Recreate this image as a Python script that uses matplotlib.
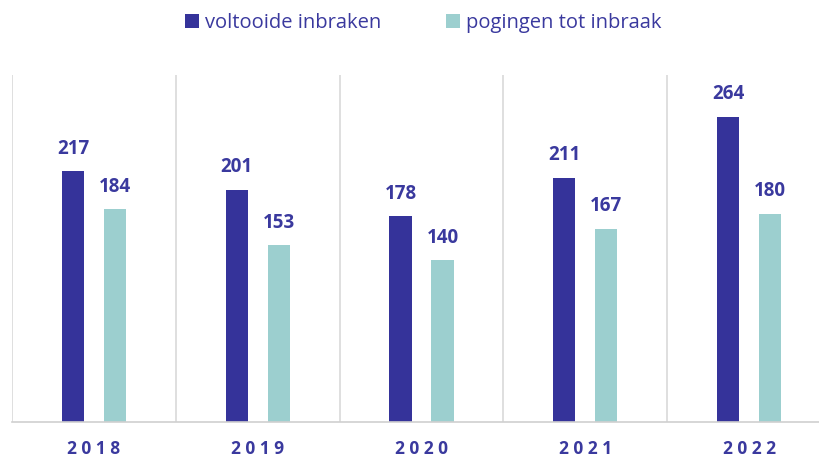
import matplotlib.pyplot as plt
import numpy as np

years = ["2018", "2019", "2020", "2021", "2022"]
voltooid = [217, 201, 178, 211, 264]
pogingen = [184, 153, 140, 167, 180]

dark = "#35339a"
teal = "#9ccfcf"
txt = "#3a399e"

plt.rcParams["font.family"] = ["Open Sans", "DejaVu Sans"]

fig = plt.figure(figsize=(8.19, 4.57), dpi=100)
ax = fig.add_axes([12 / 819, 35 / 457, 819 / 819, 347 / 457])

x = np.arange(len(years))
off = 0.128
w = 0.135
b1 = ax.bar(x - off, voltooid, w, color=dark, label="voltooide inbraken")
b2 = ax.bar(x + off, pogingen, w, color=teal, label="pogingen tot inbraak")

for bars in (b1, b2):
    for r in bars:
        ax.annotate(str(int(r.get_height())), (r.get_x() + r.get_width() / 2, r.get_height()),
                    xytext=(0, 9), textcoords="offset points", ha="center", va="bottom",
                    fontsize=13.5, fontweight="bold", color=txt)

ax.set_xlim(-0.5, len(years) - 0.5)
ax.set_ylim(0, 300)
for xv in np.arange(-0.5, len(years), 1.0):
    ax.axvline(xv, color="#d9d9d9", lw=1.2, zorder=0)

ax.set_xticks(x)
ax.set_xticklabels([" ".join(y) for y in years], fontsize=12.5, fontweight="bold", color=txt)
ax.tick_params(axis="x", length=0, pad=13)
ax.set_yticks([])
for s in ["top", "right", "left"]:
    ax.spines[s].set_visible(False)
ax.spines["bottom"].set_color("#d0d0d0")
ax.spines["bottom"].set_linewidth(1.2)

leg = fig.legend(loc="center", bbox_to_anchor=(0.517, 0.95), ncol=2, frameon=False,
                 fontsize=14.5, handlelength=0.7, handleheight=0.7, columnspacing=3.2,
                 handletextpad=0.3)
for t in leg.get_texts():
    t.set_color(txt)

fig.savefig("out.png", dpi=100)
